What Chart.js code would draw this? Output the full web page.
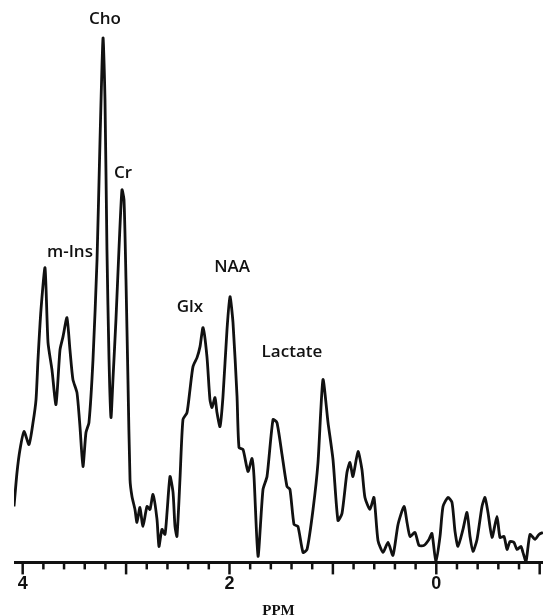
<!DOCTYPE html>
<html>
<head>
<meta charset="utf-8">
<title>Proton MR spectrum</title>
<script src="https://cdn.jsdelivr.net/npm/chart.js@4.4.1/dist/chart.umd.min.js"></script>
<style>
  html, body { margin: 0; padding: 0; background: #fff; }
  #wrap { width: 543px; height: 616px; }
</style>
</head>
<body>
<div id="wrap"><canvas id="spectrum" width="543" height="616"></canvas></div>
<script>
// chemical shift (ppm), high to low, and signal height (arbitrary units)
var ppm = [4.084, 4.055, 4.026, 3.987, 3.939, 3.900, 3.871, 3.852, 3.823, 3.784,
  3.755, 3.717, 3.678, 3.639, 3.610, 3.572, 3.543, 3.514, 3.475, 3.446,
  3.417, 3.388, 3.359, 3.320, 3.281, 3.252, 3.223, 3.204, 3.185, 3.165,
  3.146, 3.127, 3.098, 3.069, 3.040, 3.020, 3.001, 2.982, 2.962, 2.943,
  2.914, 2.895, 2.866, 2.837, 2.798, 2.769, 2.740, 2.701, 2.682, 2.653,
  2.624, 2.604, 2.575, 2.546, 2.527, 2.508, 2.479, 2.450, 2.411, 2.382,
  2.353, 2.314, 2.285, 2.256, 2.218, 2.189, 2.169, 2.140, 2.121, 2.092,
  2.063, 2.024, 1.995, 1.966, 1.927, 1.908, 1.869, 1.821, 1.782, 1.763,
  1.724, 1.676, 1.637, 1.579, 1.541, 1.492, 1.444, 1.415, 1.376, 1.338,
  1.289, 1.250, 1.192, 1.144, 1.096, 1.047, 0.999, 0.951, 0.912, 0.864,
  0.835, 0.806, 0.757, 0.719, 0.690, 0.641, 0.603, 0.564, 0.515, 0.467,
  0.419, 0.370, 0.312, 0.283, 0.254, 0.206, 0.167, 0.119, 0.071, 0.042,
  0.003, -0.036, -0.065, -0.113, -0.152, -0.181, -0.210, -0.258, -0.297, -0.326,
  -0.355, -0.394, -0.442, -0.471, -0.500, -0.539, -0.587, -0.616, -0.655, -0.684,
  -0.713, -0.751, -0.780, -0.819, -0.838, -0.868, -0.906, -0.955, -0.993, -1.032];

var intensity = [56, 90, 113, 131, 118, 140, 163, 203, 253, 295,
  220, 193, 158, 213, 226, 245, 213, 183, 170, 136,
  96, 130, 140, 203, 303, 423, 525, 463, 313, 203,
  145, 183, 243, 313, 373, 363, 283, 183, 83, 66,
  53, 40, 55, 36, 56, 53, 68, 43, 16, 33,
  28, 50, 86, 70, 36, 26, 83, 143, 150, 173,
  196, 205, 216, 235, 206, 163, 155, 165, 150, 136,
  166, 233, 266, 240, 166, 115, 113, 91, 104, 86,
  6, 73, 86, 143, 140, 108, 76, 73, 38, 36,
  10, 13, 53, 100, 183, 140, 103, 42, 49, 90,
  100, 86, 111, 93, 65, 53, 65, 22, 10, 20,
  7, 38, 56, 40, 26, 30, 17, 17, 23, 29,
  0, 26, 56, 65, 60, 31, 16, 33, 50, 26,
  11, 23, 56, 65, 50, 25, 46, 25, 26, 13,
  21, 20, 13, 16, 10, 1, 28, 23, 28, 30];

// metabolite names and where their labels sit (ppm, height)
var peakNames = ['Cho', 'Cr', 'm-Ins', 'NAA', 'Glx', 'Lactate'];
var peakLabelPpm = [3.204, 3.030, 3.543, 1.975, 2.382, 1.396];
var peakLabelHeight = [544, 390, 311, 296, 256, 210];

// axis ticks
var tickLabels = ['4', '2', '0'];
var tickStep = 0.2;
var ppmMin = -1.032, ppmMax = 4.084;

var points = ppm.map(function (p, i) { return { x: p, y: intensity[i] }; });

// axis line plus minor/major tick marks hanging below it
var axisPlugin = {
  id: 'ppmAxis',
  afterDraw: function (chart) {
    var ctx = chart.ctx, sx = chart.scales.x, area = chart.chartArea;
    var y0 = area.bottom;
    ctx.save();
    ctx.strokeStyle = '#111';
    ctx.lineWidth = 3;
    ctx.beginPath();
    ctx.moveTo(area.left, y0);
    ctx.lineTo(area.right, y0);
    ctx.stroke();
    ctx.lineWidth = 2.5;
    sx.ticks.forEach(function (t) {
      var px = sx.getPixelForValue(t.value);
      var whole = Math.abs(t.value - Math.round(t.value)) < 1e-6;
      ctx.beginPath();
      ctx.moveTo(px, y0);
      ctx.lineTo(px, y0 + (whole ? 12 : 7));
      ctx.stroke();
    });
    ctx.restore();
  }
};

// metabolite names over their peaks
var peakLabelPlugin = {
  id: 'peakLabels',
  afterDraw: function (chart) {
    var ctx = chart.ctx, sx = chart.scales.x, sy = chart.scales.y;
    ctx.save();
    ctx.fillStyle = '#111';
    ctx.font = '600 17px "Open Sans", sans-serif';
    ctx.textAlign = 'center';
    ctx.textBaseline = 'middle';
    peakNames.forEach(function (name, i) {
      ctx.fillText(name, sx.getPixelForValue(peakLabelPpm[i]), sy.getPixelForValue(peakLabelHeight[i]));
    });
    ctx.restore();
  }
};

var ctx = document.getElementById('spectrum');
var spectrum = new Chart(ctx, {
  type: 'line',
  data: {
    datasets: [{
      data: points,
      borderColor: '#111',
      borderWidth: 2.8,
      pointRadius: 0,
      tension: 0.2,
      fill: false
    }]
  },
  options: {
    responsive: false,
    animation: false,
    layout: { padding: { left: 14, right: 0, top: 23, bottom: 0 } },
    plugins: { legend: { display: false }, tooltip: { enabled: false } },
    scales: {
      x: {
        type: 'linear',
        reverse: true,
        min: ppmMin,
        max: ppmMax,
        afterBuildTicks: function (scale) {
          var list = [];
          for (var v = 4; v >= -1.0001; v -= tickStep) {
            list.push({ value: Math.round(v * 10) / 10 });
          }
          scale.ticks = list;
        },
        border: { display: false },
        grid: { drawOnChartArea: false, drawTicks: true, tickLength: 10, tickColor: 'rgba(0,0,0,0)' },
        ticks: {
          autoSkip: false,
          maxRotation: 0,
          padding: 1,
          color: '#111',
          font: { family: '"Liberation Sans", sans-serif', size: 18, weight: 'bold' },
          callback: function (value) {
            var s = String(Math.round(value * 10) / 10);
            return tickLabels.indexOf(s) >= 0 ? s : '';
          }
        },
        title: {
          display: true,
          text: 'PPM',
          color: '#111',
          font: { family: '"Liberation Serif", serif', size: 15, weight: 'bold', lineHeight: 1 },
          padding: { top: 8, bottom: -3 }
        }
      },
      y: {
        display: false,
        min: 0,
        max: 540
      }
    }
  },
  plugins: [axisPlugin, peakLabelPlugin]
});
</script>
</body>
</html>
